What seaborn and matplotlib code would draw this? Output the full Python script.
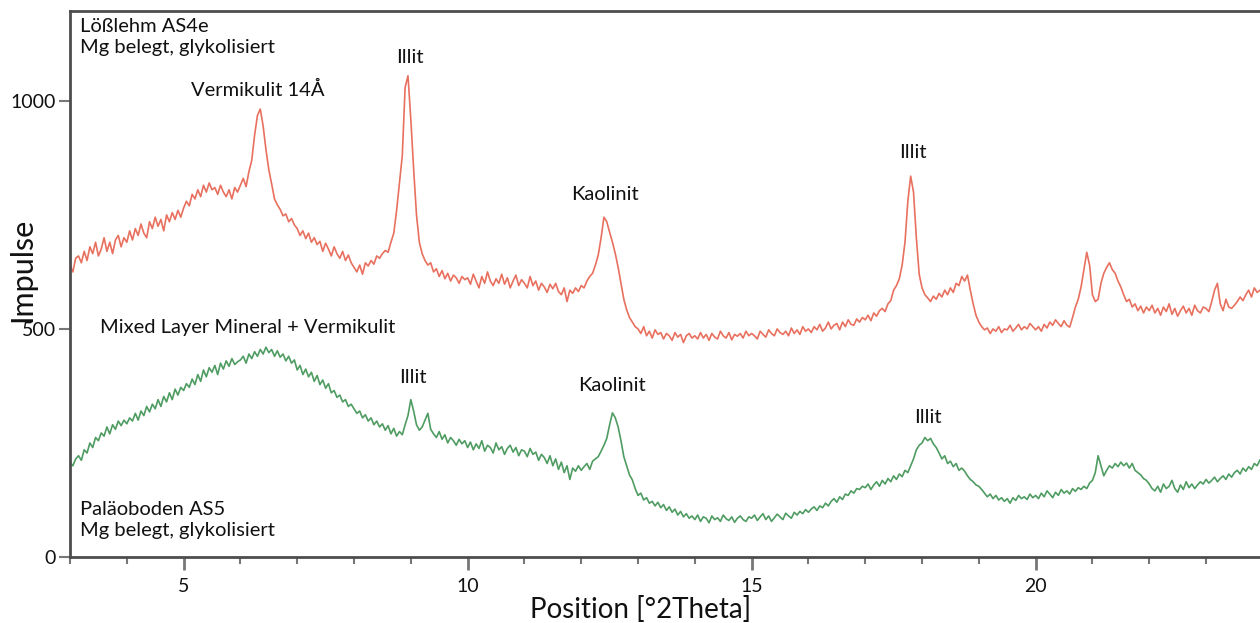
import numpy as np
import pandas as pd
import matplotlib
matplotlib.use("Agg")
import matplotlib.pyplot as plt
import seaborn as sns
from matplotlib.ticker import MultipleLocator, FixedLocator

# ---- data, scan from 3.00 °2Theta in 0.05° steps ----
scan_start = 3.0
scan_step = 0.05

loess_counts = [
    640, 625, 655, 660, 645, 670, 650, 680, 665, 690, 660, 675, 700, 670, 690, 665, 695, 705, 680, 700,
    690, 715, 695, 720, 705, 730, 710, 700, 735, 720, 745, 725, 740, 715, 750, 735, 755, 740, 760, 745,
    765, 780, 770, 795, 785, 805, 790, 815, 800, 820, 805, 810, 795, 815, 800, 790, 805, 785, 810, 800,
    815, 830, 812, 845, 870, 925, 968, 982, 945, 893, 849, 818, 785, 772, 762, 748, 752, 735, 742, 728,
    720, 705, 715, 698, 710, 690, 700, 685, 692, 670, 688, 675, 660, 680, 665, 655, 670, 650, 662, 645,
    635, 625, 640, 620, 645, 638, 650, 642, 660, 655, 665, 672, 668, 690, 710, 760, 820, 880, 1030, 1055,
    960, 850, 750, 690, 665, 650, 640, 645, 625, 632, 615, 628, 610, 622, 605, 618, 612, 600, 615, 608,
    612, 598, 620, 605, 590, 615, 600, 625, 605, 595, 610, 600, 620, 598, 612, 590, 605, 618, 595, 608,
    600, 590, 615, 595, 605, 585, 600, 592, 580, 598, 588, 600, 582, 575, 590, 560, 585, 578, 590, 582,
    595, 590, 605, 615, 622, 640, 662, 700, 745, 735, 712, 690, 665, 635, 600, 565, 542, 525, 515, 505,
    500, 490, 505, 485, 495, 480, 498, 488, 492, 478, 490, 485, 475, 492, 482, 488, 470, 485, 490, 480,
    485, 478, 492, 480, 488, 475, 490, 482, 478, 495, 485, 480, 492, 476, 488, 484, 490, 480, 495, 485,
    490, 485, 478, 495, 488, 482, 498, 490, 485, 500, 492, 488, 495, 485, 502, 490, 498, 488, 505, 495,
    500, 492, 505, 498, 510, 495, 502, 515, 500, 508, 512, 498, 515, 505, 520, 510, 508, 522, 515, 525,
    520, 530, 518, 535, 528, 540, 545, 538, 555, 562, 585, 595, 610, 640, 690, 780, 835, 800, 700, 620,
    590, 575, 568, 560, 572, 565, 578, 570, 585, 575, 590, 580, 600, 595, 615, 605, 618, 585, 555, 530,
    515, 505, 498, 502, 490, 500, 495, 505, 492, 500, 498, 508, 495, 502, 510, 498, 505, 500, 512, 505,
    498, 505, 495, 510, 502, 515, 508, 520, 512, 505, 518, 508, 504, 525, 548, 565, 592, 630, 668, 640,
    575, 560, 565, 600, 622, 635, 645, 630, 622, 605, 592, 575, 560, 565, 548, 555, 540, 550, 535, 548,
    540, 552, 535, 545, 530, 548, 538, 555, 532, 545, 528, 540, 550, 535, 545, 530, 552, 540, 535, 548,
    545, 538, 560, 585, 600, 555, 540, 565, 548, 545, 552, 560, 570, 562, 575, 585, 570, 590, 580, 585,
]

palaeo_counts = [
    208, 200, 215, 222, 212, 235, 228, 250, 240, 262, 255, 272, 265, 285, 270, 290, 280, 298, 288, 300,
    292, 305, 298, 315, 300, 320, 310, 330, 318, 335, 325, 345, 330, 352, 340, 360, 345, 368, 355, 372,
    365, 380, 372, 390, 378, 400, 385, 410, 395, 415, 405, 420, 400, 425, 412, 430, 418, 435, 422, 428,
    432, 440, 425, 445, 435, 450, 440, 455, 445, 460, 448, 455, 440, 452, 438, 445, 430, 440, 425, 432,
    410, 420, 400, 412, 395, 405, 385, 398, 378, 388, 370, 380, 360, 365, 350, 355, 340, 345, 330, 335,
    325, 315, 320, 305, 312, 298, 305, 290, 298, 285, 292, 278, 288, 270, 282, 265, 275, 268, 290, 310,
    345, 320, 290, 278, 285, 300, 315, 280, 270, 262, 275, 258, 268, 250, 262, 255, 245, 258, 248, 255,
    240, 252, 235, 248, 238, 255, 232, 245, 240, 228, 250, 235, 242, 225, 238, 245, 230, 240, 222, 235,
    232, 220, 238, 225, 230, 212, 225, 218, 205, 222, 200, 215, 192, 208, 185, 200, 170, 195, 188, 200,
    190, 198, 205, 192, 210, 215, 220, 232, 245, 260, 290, 316, 305, 285, 255, 220, 200, 180, 169, 150,
    135, 140, 125, 130, 118, 122, 112, 120, 108, 115, 102, 110, 98, 105, 92, 100, 88, 95, 85, 90,
    82, 92, 78, 88, 85, 75, 90, 82, 86, 78, 92, 84, 80, 88, 76, 85, 90, 82, 78, 88,
    85, 92, 80, 88, 95, 82, 90, 78, 86, 94, 88, 82, 96, 90, 85, 98, 92, 100, 95, 104,
    98, 105, 110, 102, 112, 108, 118, 112, 122, 128, 120, 132, 126, 138, 135, 145, 140, 150, 148, 155,
    152, 160, 148, 158, 165, 155, 168, 160, 172, 165, 178, 170, 182, 176, 190, 185, 200, 215, 235, 245,
    250, 262, 255, 260, 248, 240, 228, 215, 222, 205, 210, 198, 205, 190, 195, 188, 178, 170, 165, 158,
    155, 148, 140, 132, 138, 128, 135, 125, 130, 122, 128, 118, 130, 124, 135, 128, 132, 126, 138, 130,
    135, 128, 140, 132, 145, 138, 130, 142, 135, 148, 140, 145, 138, 150, 144, 152, 148, 155, 150, 162,
    168, 185, 222, 200, 178, 190, 200, 195, 205, 198, 208, 200, 206, 195, 205, 190, 185, 180, 172, 168,
    160, 150, 145, 155, 142, 160, 150, 155, 168, 150, 142, 158, 148, 165, 152, 160, 150, 158, 165, 160,
    170, 162, 168, 175, 165, 172, 178, 170, 182, 175, 185, 190, 182, 195, 188, 198, 192, 205, 200, 213,
]

series_names = ["Lößlehm AS4e", "Paläoboden AS5"]
series_colors = ["#e8705f", "#4f9c62"]

# peak labels: (text, x position °2Theta, y position counts)
peak_labels = [
    ("Vermikulit 14Å", 6.31, 1024),
    ("Illit", 8.99, 1096),
    ("Kaolinit", 12.42, 794),
    ("Illit", 17.84, 886),
    ("Mixed Layer Mineral + Vermikulit", 6.13, 504),
    ("Illit", 9.04, 393),
    ("Kaolinit", 12.54, 375),
    ("Illit", 18.11, 305),
]
sample_labels = [
    ("Lößlehm AS4e\nMg belegt, glykolisiert", 3.18, 1140),
    ("Paläoboden AS5\nMg belegt, glykolisiert", 3.18, 81),
]

x_ticks = [5, 10, 15, 20]
y_ticks = [0, 500, 1000]

# ---- build table ----
n = len(loess_counts)
pos = np.round(scan_start + scan_step * np.arange(n), 3)
df = pd.concat([
    pd.DataFrame({"Position": pos, "Impulse": loess_counts, "Probe": series_names[0]}),
    pd.DataFrame({"Position": pos, "Impulse": palaeo_counts, "Probe": series_names[1]}),
], ignore_index=True)

sns.set_theme(style="white")
plt.rcParams["font.family"] = ["Lato", "DejaVu Sans"]

fig = plt.figure(figsize=(12.6, 6.23), dpi=100)
ax = fig.add_axes([70 / 1260, 1 - 557 / 623, 1 - 70 / 1260, (557 - 11) / 623])

sns.lineplot(data=df, x="Position", y="Impulse", hue="Probe",
             palette=dict(zip(series_names, series_colors)),
             linewidth=1.2, legend=False, ax=ax, estimator=None, sort=False)

ax.set_xlim(3.0, 23.95)
ax.set_ylim(0, 1197)

spine_c = "#4d4d4d"
for s in ["left", "bottom", "top"]:
    ax.spines[s].set_visible(True)
    ax.spines[s].set_color(spine_c)
    ax.spines[s].set_linewidth(2.0)
ax.spines["right"].set_visible(False)

ax.xaxis.set_major_locator(FixedLocator(x_ticks))
ax.xaxis.set_minor_locator(MultipleLocator(1))
ax.yaxis.set_major_locator(FixedLocator(y_ticks))
ax.tick_params(axis="x", which="major", direction="out", length=9, width=2,
               color="#777777", labelsize=14, pad=6, labelcolor="#111111", bottom=True)
ax.tick_params(axis="x", which="minor", direction="out", length=5, width=1.5,
               color="#777777", bottom=True)
ax.tick_params(axis="y", which="major", direction="out", length=8, width=1.5,
               color="#777777", labelsize=14, pad=2, labelcolor="#111111", left=True)

ax.set_xlabel("Position [°2Theta]", fontsize=20, color="#111111", va="center")
ax.set_ylabel("Impulse", fontsize=22, color="#111111", va="center")
ax.xaxis.set_label_coords((641 - 70) / 1190, (557 - 609) / 546)
ax.yaxis.set_label_coords((22 - 70) / 1190, (557 - 270) / 546)

box = dict(facecolor="white", edgecolor="none", pad=3)
for txt, xv, yv in peak_labels:
    ax.text(xv, yv, txt, ha="center", va="center", fontsize=14.5, color="#111111", bbox=box)
for txt, xv, yv in sample_labels:
    ax.text(xv, yv, txt, ha="left", va="center", fontsize=14.5, color="#111111",
            linespacing=1.25, bbox=box)

fig.savefig("out.png", dpi=100)
